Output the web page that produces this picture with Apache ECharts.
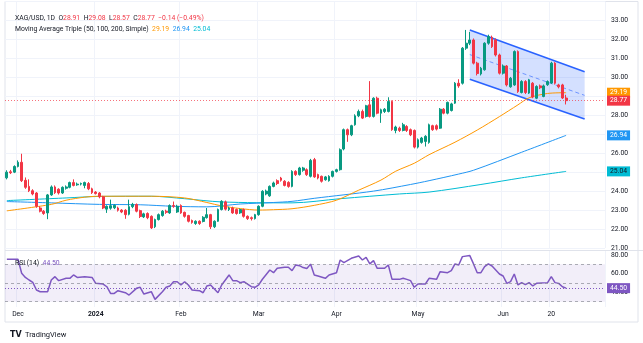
<!DOCTYPE html>
<html><head><meta charset="utf-8">
<script src="https://cdn.jsdelivr.net/npm/echarts@6/dist/echarts.min.js"></script>
<style>html,body{margin:0;padding:0;background:#fff}#c{width:643px;height:343px}</style>
</head><body><div id="c"></div>
<script>
// ---- data ----
const open = [
24.70,25.02,25.00,25.30,25.52,24.57,24.25,24.02,23.90,23.11,
22.94,22.85,23.80,24.22,24.10,23.90,24.15,24.20,24.45,24.33,
24.37,24.30,24.40,24.12,23.95,23.90,23.70,23.05,23.10,23.12,
23.11,23.00,22.99,22.78,23.18,23.29,22.97,22.64,22.82,22.67,
22.12,22.50,22.71,22.94,22.85,23.24,22.90,23.24,22.88,22.71,
22.45,22.29,22.41,22.40,22.60,22.76,22.12,22.41,23.03,23.43,
23.03,23.11,23.03,22.85,23.03,22.67,22.60,22.55,22.76,23.20,
23.85,23.75,24.25,24.55,24.69,24.52,24.46,24.25,25.04,24.87,
25.10,25.13,24.78,25.66,24.87,24.78,24.60,24.55,24.78,25.04,
25.13,26.22,27.24,26.97,27.50,27.97,28.20,27.94,28.55,27.94,
28.90,28.11,28.20,28.20,28.73,27.20,27.32,27.20,27.41,27.24,
27.20,26.32,26.57,26.62,26.57,27.45,27.45,27.32,28.32,28.11,
28.25,28.64,29.69,29.69,31.54,31.80,31.97,30.75,30.18,30.40,
31.80,32.11,31.97,31.18,30.22,30.60,29.50,29.60,31.36,29.20,
29.78,29.17,29.69,28.90,29.55,28.99,29.61,29.70,30.75,29.60,
29.60,28.91];
const close = [
25.00,24.97,25.30,25.52,24.55,24.20,24.02,23.85,23.20,22.94,
22.82,23.80,24.22,23.92,23.90,24.20,24.22,24.45,24.30,24.37,
24.40,24.45,24.12,23.92,23.87,23.70,23.11,23.20,23.23,23.25,
22.99,22.90,22.76,23.18,23.30,22.94,22.66,22.80,22.60,22.06,
22.50,22.76,22.94,22.88,23.24,23.20,23.20,22.85,22.67,22.41,
22.35,22.41,22.29,22.62,22.76,22.12,22.41,23.03,23.46,23.05,
23.11,22.85,22.82,23.03,22.67,22.55,22.55,22.76,23.20,23.99,
24.00,24.25,24.43,24.40,24.57,24.30,24.25,25.04,24.87,25.22,
25.22,24.87,25.62,24.75,24.69,24.52,24.75,24.78,25.04,25.13,
26.18,27.24,26.97,27.45,27.97,28.20,27.85,28.50,27.94,28.90,
28.11,28.29,28.32,28.73,27.24,27.38,27.20,27.50,27.20,26.97,
26.32,26.71,26.80,26.89,27.50,27.24,27.27,28.32,28.11,28.68,
28.60,29.69,29.55,31.54,31.80,31.97,30.75,30.20,30.48,31.80,
32.15,31.62,31.18,30.22,30.60,29.60,29.95,31.36,29.25,29.78,
29.20,29.87,28.96,29.52,29.45,29.55,29.78,30.75,29.69,29.50,
28.91,28.77];
const low = [
24.62,24.90,24.95,25.25,24.48,24.12,23.95,23.78,23.12,22.88,
22.75,22.52,23.75,23.85,23.82,23.85,24.08,24.15,24.25,24.28,
24.30,24.15,24.05,23.85,23.82,23.62,23.05,22.85,23.02,23.05,
22.92,22.84,22.54,22.72,23.10,22.88,22.58,22.58,22.52,22.00,
22.05,22.45,22.65,22.80,22.80,23.12,22.85,22.80,22.60,22.35,
22.28,22.22,22.22,22.35,22.55,22.00,22.05,22.38,22.98,22.98,
22.95,22.80,22.76,22.80,22.60,22.48,22.45,22.50,22.70,23.15,
23.78,23.70,24.20,24.32,24.50,24.25,24.18,24.20,24.80,24.82,
25.02,24.80,24.72,24.70,24.62,24.45,24.55,24.50,24.72,24.98,
25.08,26.15,26.60,26.90,27.45,27.90,27.80,27.88,27.88,27.88,
28.05,27.60,28.12,28.15,27.18,27.05,27.12,27.15,27.12,26.90,
26.25,26.25,26.50,26.35,26.50,27.18,27.20,27.28,28.05,28.05,
28.20,28.60,29.45,29.62,31.45,31.70,30.68,30.10,30.10,30.35,
31.72,31.55,31.10,30.15,30.15,29.52,29.45,29.55,29.18,29.15,
29.12,29.12,28.90,28.85,29.38,28.95,29.55,29.65,29.62,29.42,
28.86,28.57];
const high = [
25.10,25.12,25.36,25.62,25.97,24.72,24.62,24.10,23.95,23.20,
23.00,23.85,24.30,24.30,24.15,24.25,24.30,24.50,24.62,24.45,
24.45,24.50,24.48,24.18,24.00,23.95,23.75,23.25,23.55,23.30,
23.18,23.05,23.05,23.55,23.38,23.35,23.02,22.86,22.88,22.72,
22.55,22.82,23.00,23.02,23.30,23.45,23.28,23.30,22.92,22.75,
22.50,22.46,22.46,22.68,23.11,22.80,22.46,23.08,23.52,23.50,
23.18,23.18,23.08,23.08,23.08,22.72,22.66,22.80,23.25,24.05,
24.08,24.30,24.50,24.62,24.75,24.58,24.52,25.10,25.10,25.28,
25.28,25.20,25.70,25.75,24.92,24.82,24.80,24.84,25.08,25.18,
26.25,27.30,27.30,27.50,28.05,28.30,28.30,28.55,29.80,28.95,
28.98,28.35,28.38,28.95,28.78,27.45,27.40,27.60,27.48,27.30,
27.25,26.78,26.86,26.95,27.56,27.50,27.52,28.38,28.38,28.72,
28.66,29.75,29.90,31.60,32.50,32.40,32.05,30.82,30.55,31.85,
32.25,32.20,32.05,31.25,30.68,30.65,30.02,31.42,31.42,29.85,
29.85,29.92,29.75,29.58,29.62,29.62,29.84,30.82,30.80,29.66,
29.66,29.08];
// moving averages: [bar index, value]
const ma50 = [[0,22.96],[12,23.30],[16,23.52],[21,23.68],[25,23.73],[39,23.73],[48,23.64],[54,23.40],[58,23.22],[63,23.08],[68,23.00],[72,23.02],[77,23.07],[83,23.25],[89,23.52],[95,24.05],[101,24.58],[105,25.05],[110,25.47],[114,25.92],[121,26.58],[127,27.22],[133,27.93],[138,28.55],[141,28.92],[146,29.15],[151,29.19]];
const ma100 = [[0,23.45],[12,23.38],[25,23.30],[36,23.28],[45,23.20],[54,23.17],[63,23.32],[72,23.40],[77,23.46],[83,23.62],[99,24.00],[109,24.35],[114,24.55],[122,24.90],[126,25.10],[139,26.05],[151,26.94]];
const ma200 = [[0,23.50],[16,23.64],[25,23.72],[39,23.73],[48,23.60],[58,23.43],[77,23.38],[90,23.60],[106,23.85],[114,23.95],[128,24.35],[139,24.70],[151,25.04]];
const rsi = [[0,75.4],[3,75.4],[4,60.4],[5,56.0],[6,53.2],[7,50.7],[8,42.5],[9,40.7],[11,40.7],[12,53.2],[13,56.8],[14,52.5],[16,55.0],[17,55.0],[18,58.6],[19,56.0],[21,56.8],[23,56.0],[24,49.6],[26,48.9],[27,46.0],[28,38.9],[29,38.9],[30,41.8],[32,39.6],[33,37.1],[35,44.3],[36,45.4],[37,38.2],[39,40.7],[40,32.5],[42,40.7],[43,45.4],[44,46.8],[45,51.4],[46,51.4],[47,47.9],[48,51.4],[49,47.9],[50,42.5],[52,41.8],[53,39.6],[54,46.8],[55,47.9],[57,39.6],[58,47.9],[60,58.6],[61,52.5],[62,52.5],[63,50.4],[64,51.4],[66,46.0],[67,45.4],[68,47.9],[69,54.0],[71,63.9],[72,61.0],[73,65.7],[75,66.8],[76,66.8],[77,63.2],[78,69.3],[79,68.5],[80,66.5],[81,65.5],[82,70.2],[83,58.6],[84,57.5],[86,55.0],[87,58.6],[89,61.0],[90,74.6],[91,71.8],[93,76.4],[95,78.9],[96,74.6],[97,77.5],[98,70.4],[99,73.9],[100,65.7],[102,65.7],[103,69.3],[104,53.9],[106,53.9],[107,55.0],[108,53.9],[109,52.5],[110,45.4],[111,48.9],[113,48.9],[114,55.0],[116,53.9],[117,62.1],[119,61.0],[120,63.2],[121,70.4],[122,69.3],[123,78.2],[125,79.3],[126,70.4],[127,61.0],[128,61.0],[129,67.5],[130,70.4],[131,68.2],[133,59.6],[134,57.5],[135,49.6],[136,51.4],[137,59.6],[138,47.9],[139,50.4],[140,48.2],[141,50.4],[142,46.8],[143,49.6],[146,50.4],[147,56.8],[148,50.4],[149,49.6],[150,46.0],[151,44.5]];
const tickDates = ['2023-12-01','2024-01-01','2024-02-01','2024-03-01','2024-04-01','2024-05-01','2024-06-03','2024-06-20'];
const tickLabels = ['Dec','2024','Feb','Mar','Apr','May','Jun','20'];
const changeText = '−0.14 (−0.49%)';
const channelIdx = [125, 156];
const channelTop = [32.5, 30.3];
const channelBottom = [29.9, 27.8];
const rsiLevels = [70, 50, 30];

// ---- categories: weekdays ----
const dates = [];
for (let d = new Date(Date.UTC(2023,10,28)); dates.length < 162; d.setUTCDate(d.getUTCDate()+1)) {
  const w = d.getUTCDay(); if (w === 0 || w === 6) continue;
  dates.push(d.toISOString().slice(0,10));
}
const candles = open.map((o,i)=>[o, close[i], low[i], high[i]]);
const last = close.length - 1;
const FONT = 'Roboto';
const fs = 6.8;
const tf = 6.8;
const UP = '#089981', DN = '#F23645';
const C50 = '#FF9800', C100 = '#2196F3', C200 = '#00BCD4', CRSI = '#7E57C2';
const SP = '\u2002';

function tag(bg, fg){
  return {show:true, position:'end', distance:2, formatter:p=>Number(p.value).toFixed(2),
    backgroundColor:bg, color:fg, padding:[2,3,1,3], fontSize:fs, fontFamily:FONT, opacity:1};
}
const hidden = {color:'rgba(0,0,0,0)', width:1};
const isTick = (i,v)=>tickDates.includes(v);
const rs = c => ({color:c, fontSize:tf, fontFamily:FONT});

const chart = echarts.init(document.getElementById('c'), null, {renderer:'canvas'});
chart.setOption({
  animation:false,
  backgroundColor:'#fff',
  textStyle:{fontFamily:FONT},
  title:[
    {left:10, top:9, textStyle:{fontSize:tf, fontFamily:FONT, lineHeight:9, fontWeight:'normal',
      rich:{k:rs('#131722'), r:rs(DN)}},
     text:'{k|XAG/USD, 1D'+SP+'O}{r|'+open[last].toFixed(2)+'}{k|'+SP+'H}{r|'+high[last].toFixed(2)+'}{k|'+SP+'L}{r|'+low[last].toFixed(2)+'}{k|'+SP+'C}{r|'+close[last].toFixed(2)+SP+changeText+'}'},
    {left:10, top:20, textStyle:{fontSize:tf, fontFamily:FONT, lineHeight:9, fontWeight:'normal',
      rich:{k:rs('#131722'), o:rs(C50), b:rs(C100), c:rs(C200)}},
     text:'{k|Moving Average Triple (50, 100, 200, Simple)'+SP+'}{o|'+ma50[ma50.length-1][1].toFixed(2)+'}{k|'+SP+'}{b|'+ma100[ma100.length-1][1].toFixed(2)+'}{k|'+SP+'}{c|'+ma200[ma200.length-1][1].toFixed(2)+'}'},
    {left:10, top:253.5, textStyle:{fontSize:tf, fontFamily:FONT, lineHeight:9, fontWeight:'normal',
      rich:{k:rs('#131722'), p:rs(CRSI)}},
     text:'{k|RSI (14)'+SP+'}{p|'+rsi[rsi.length-1][1].toFixed(2)+'}'},
    {left:5, top:326, textStyle:{fontSize:8, fontFamily:'DejaVu Sans', fontWeight:'bold', color:'#131722'}, text:'TV'},
    {left:20, top:326.5, textStyle:{fontSize:7.5, fontFamily:FONT, fontWeight:'normal', color:'#131722'}, text:'TradingView'}
  ],
  grid:[
    {left:5, right:38, top:1.5, bottom:95},
    {left:5, right:38, top:251, bottom:36}
  ],
  xAxis:[
    {type:'category', gridIndex:0, data:dates, boundaryGap:true,
     axisLine:{show:false}, axisTick:{show:false}, axisLabel:{show:false},
     splitLine:{show:true, interval:isTick, lineStyle:{color:'#F0F3FA'}}},
    {type:'category', gridIndex:1, data:dates, boundaryGap:true,
     axisLine:{show:false}, axisTick:{show:false},
     axisLabel:{interval:isTick, margin:4, fontSize:fs, color:'#131722', fontFamily:FONT,
       formatter:v=>{const t=tickLabels[tickDates.indexOf(v)]; return t==='2024'?'{y|'+t+'}':t;},
       rich:{y:{fontWeight:'bold',fontSize:fs,color:'#131722',fontFamily:FONT}}},
     splitLine:{show:true, interval:isTick, lineStyle:{color:'#F0F3FA'}}}
  ],
  yAxis:[
    {type:'value', gridIndex:0, position:'right', min:21, max:34, interval:1,
     axisLine:{show:false}, axisTick:{show:false},
     splitLine:{lineStyle:{color:'#F0F3FA'}},
     axisLabel:{showMaxLabel:false, margin:6, fontSize:fs, color:'#131722', fontFamily:FONT, formatter:v=>v.toFixed(2)}},
    {type:'value', gridIndex:1, position:'right', min:24.33, max:84.22,
     axisLine:{show:false},
     axisTick:{show:false, customValues:[40,60,80]},
     splitLine:{show:false},
     axisLabel:{customValues:[40,60,80], margin:6, fontSize:fs, color:'#131722', fontFamily:FONT, formatter:v=>Number(v).toFixed(2)}}
  ],
  series:[
    {type:'custom', name:'channel', xAxisIndex:0, yAxisIndex:0, z:1, silent:true, clip:false,
     data:[[channelIdx[0], channelTop[0]]],
     renderItem:(params, api)=>{
       const t0=api.coord([channelIdx[0],channelTop[0]]), t1=api.coord([channelIdx[1],channelTop[1]]);
       const b0=api.coord([channelIdx[0],channelBottom[0]]), b1=api.coord([channelIdx[1],channelBottom[1]]);
       const m0=[(t0[0]+b0[0])/2,(t0[1]+b0[1])/2], m1=[(t1[0]+b1[0])/2,(t1[1]+b1[1])/2];
       return {type:'group', children:[
         {type:'polygon', shape:{points:[t0,t1,b1,b0]}, style:{fill:'rgba(41,98,255,0.2)'}},
         {type:'line', shape:{x1:m0[0],y1:m0[1],x2:m1[0],y2:m1[1]}, style:{stroke:'rgba(41,98,255,0.6)', lineWidth:1, lineDash:[4,3]}},
         {type:'line', shape:{x1:t0[0],y1:t0[1],x2:t1[0],y2:t1[1]}, style:{stroke:'#2962FF', lineWidth:1.6}},
         {type:'line', shape:{x1:b0[0],y1:b0[1],x2:b1[0],y2:b1[1]}, style:{stroke:'#2962FF', lineWidth:1.6}}
       ]};
     }},
    {type:'line', name:'MA200', xAxisIndex:0, yAxisIndex:0, data:ma200, smooth:0.3, showSymbol:false, z:2,
     lineStyle:{color:C200, width:1}, itemStyle:{color:C200},
     markLine:{silent:true, symbol:['none','none'],
       data:[{yAxis:ma200[ma200.length-1][1], lineStyle:hidden, label:tag(C200,'#131722')}]}},
    {type:'line', name:'MA100', xAxisIndex:0, yAxisIndex:0, data:ma100, smooth:0.3, showSymbol:false, z:2,
     lineStyle:{color:C100, width:1}, itemStyle:{color:C100},
     markLine:{silent:true, symbol:['none','none'],
       data:[{yAxis:ma100[ma100.length-1][1], lineStyle:hidden, label:tag(C100,'#fff')}]}},
    {type:'line', name:'MA50', xAxisIndex:0, yAxisIndex:0, data:ma50, smooth:0.3, showSymbol:false, z:2,
     lineStyle:{color:C50, width:1}, itemStyle:{color:C50},
     markLine:{silent:true, symbol:['none','none'],
       data:[{yAxis:ma50[ma50.length-1][1], lineStyle:hidden, label:tag(C50,'#fff')}]}},
    {type:'candlestick', name:'XAG/USD', xAxisIndex:0, yAxisIndex:0, data:candles, barWidth:'62%', z:3,
     itemStyle:{color:UP, color0:DN, borderColor:UP, borderColor0:DN, borderWidth:1},
     markLine:{silent:true, symbol:['none','none'],
       data:[{yAxis:close[last], lineStyle:{color:'rgba(242,54,69,0.7)', type:[1,2], width:1}, label:tag(DN,'#fff')}]}},
    {type:'line', name:'RSI', xAxisIndex:1, yAxisIndex:1, data:rsi, showSymbol:false, z:3,
     lineStyle:{color:CRSI, width:1.5}, itemStyle:{color:CRSI},
     markArea:{silent:true, itemStyle:{color:'rgba(126,87,194,0.1)'}, data:[[{yAxis:rsiLevels[2]},{yAxis:rsiLevels[0]}]]},
     markLine:{silent:true, symbol:['none','none'],
       data:[
         {yAxis:rsiLevels[0], lineStyle:{color:'rgba(120,123,134,0.6)', type:[3,3], width:1}, label:{show:false}},
         {yAxis:rsiLevels[1], lineStyle:{color:'rgba(120,123,134,0.6)', type:[3,3], width:1}, label:{show:false}},
         {yAxis:rsiLevels[2], lineStyle:{color:'rgba(120,123,134,0.6)', type:[3,3], width:1}, label:{show:false}},
         {yAxis:rsi[rsi.length-1][1], lineStyle:{color:CRSI, type:[1,2], width:1}, label:tag(CRSI,'#fff')}
       ]}}
  ],
  graphic:[
    {type:'rect', shape:{x:5, y:1.5, width:633, height:320.5}, style:{fill:'none', stroke:'#E0E3EB', lineWidth:1}, silent:true, z:-1},
    {type:'line', shape:{x1:5, y1:250.5, x2:643, y2:250.5}, style:{stroke:'#E0E3EB', lineWidth:1}, silent:true}
  ]
});
</script>
</body></html>
